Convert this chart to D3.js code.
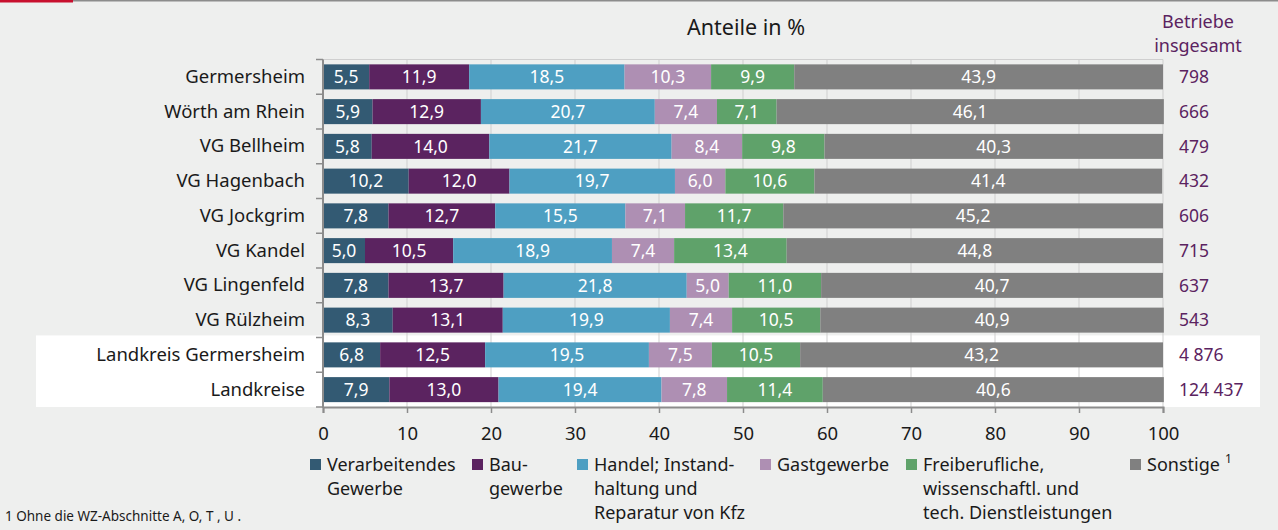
<!DOCTYPE html>
<meta charset="utf-8">
<script src="https://d3js.org/d3.v7.min.js"></script>
<style>
  body { margin: 0; background: #eeefee; }
  svg { display: block; font-family: "Noto Sans", "Open Sans", sans-serif; }
</style>
<svg id="chart" width="1278" height="530"></svg>
<script>

// regions (rows, top to bottom)
const regions = ["Germersheim", "Wörth am Rhein", "VG Bellheim", "VG Hagenbach", "VG Jockgrim",
  "VG Kandel", "VG Lingenfeld", "VG Rülzheim", "Landkreis Germersheim", "Landkreise"];

// shares in % per sector
const verarbeitend = [5.5, 5.9, 5.8, 10.2, 7.8, 5.0, 7.8, 8.3, 6.8, 7.9];
const bau          = [11.9, 12.9, 14.0, 12.0, 12.7, 10.5, 13.7, 13.1, 12.5, 13.0];
const handel       = [18.5, 20.7, 21.7, 19.7, 15.5, 18.9, 21.8, 19.9, 19.5, 19.4];
const gast         = [10.3, 7.4, 8.4, 6.0, 7.1, 7.4, 5.0, 7.4, 7.5, 7.8];
const freiberuf    = [9.9, 7.1, 9.8, 10.6, 11.7, 13.4, 11.0, 10.5, 10.5, 11.4];
const sonstige     = [43.9, 46.1, 40.3, 41.4, 45.2, 44.8, 40.7, 40.9, 43.2, 40.6];

// Betriebe insgesamt
const betriebe = ["798", "666", "479", "432", "606", "715", "637", "543", "4 876", "124 437"];

const sectors = ["verarbeitend", "bau", "handel", "gast", "freiberuf", "sonstige"];
const sectorLabels = [
  ["Verarbeitendes", "Gewerbe"],
  ["Bau-", "gewerbe"],
  ["Handel; Instand-", "haltung und", "Reparatur von Kfz"],
  ["Gastgewerbe"],
  ["Freiberufliche,", "wissenschaftl. und", "tech. Dienstleistungen"],
  ["Sonstige"]
];
const colors = ["#335a73", "#5b2360", "#4e9fc2", "#ae8fb3", "#5fa26a", "#808080"];
const xTicks = [0, 10, 20, 30, 40, 50, 60, 70, 80, 90, 100];

const svg = d3.select("#chart");
const W = 1278, H = 530;
const ink = "#1a1a1a";

// top rule with red mark
svg.append("rect").attr("x", 0).attr("y", 0).attr("width", W).attr("height", 1.5).attr("fill", "#8c8c8c");
svg.append("rect").attr("x", 0).attr("y", 0).attr("width", 73).attr("height", 2.5).attr("fill", "#c8102e");

const x = d3.scaleLinear().domain([0, 100]).range([323, 1163]);
const y = d3.scaleBand().domain(regions).range([59.5, 407]).paddingInner(0.28).paddingOuter(0.14);

// white band behind the two summary rows
const bandTop = y("Landkreis Germersheim") - y.step() * 0.2;
svg.append("rect")
  .attr("x", 36).attr("y", bandTop)
  .attr("width", 1260 - 36).attr("height", 407 - bandTop)
  .attr("fill", "#ffffff");

// grid + frame
const grid = svg.append("g");
grid.selectAll("line")
  .data(xTicks.slice(1))
  .join("line")
  .attr("x1", d => x(d)).attr("x2", d => x(d))
  .attr("y1", 59.5).attr("y2", 407)
  .attr("stroke", "#cfcfcf").attr("stroke-width", 1);
grid.append("line").attr("x1", x(0)).attr("x2", x(100)).attr("y1", 59.5).attr("y2", 59.5)
  .attr("stroke", "#cfcfcf");

// stacked data
const rows = regions.map((r, i) => ({
  region: r,
  verarbeitend: verarbeitend[i], bau: bau[i], handel: handel[i],
  gast: gast[i], freiberuf: freiberuf[i], sonstige: sonstige[i]
}));
const series = d3.stack().keys(sectors)(rows);

const bars = svg.append("g");
series.forEach((s, k) => {
  const g = bars.append("g").attr("fill", colors[k]);
  g.selectAll("rect")
    .data(s)
    .join("rect")
    .attr("x", d => x(d[0]))
    .attr("y", d => y(d.data.region))
    .attr("width", d => x(d[1]) - x(d[0]))
    .attr("height", y.bandwidth());
  bars.append("g").selectAll("text")
    .data(s)
    .join("text")
    .attr("x", d => (x(d[0]) + x(d[1])) / 2)
    .attr("y", d => y(d.data.region) + y.bandwidth() / 2)
    .attr("dy", "0.36em")
    .attr("text-anchor", "middle")
    .attr("fill", "#ffffff")
    .attr("font-size", 17.5)
    .text(d => d3.format(".1f")(d[1] - d[0]).replace(".", ","));
});

// left axis: labels + boundary ticks
const yAxis = svg.append("g")
  .attr("transform", `translate(${x(0)},0)`)
  .call(d3.axisLeft(y).tickSize(0).tickPadding(18))
  .attr("font-family", null).attr("font-size", null);
yAxis.select(".domain").remove();
yAxis.selectAll("text").attr("font-size", 18.5).attr("fill", ink);

const bounds = regions.map(r => y(r) - y.step() * y.paddingInner() / 2).concat([407]);
svg.append("g").selectAll("line")
  .data(bounds)
  .join("line")
  .attr("x1", x(0) - 7).attr("x2", x(0))
  .attr("y1", d => d).attr("y2", d => d)
  .attr("stroke", "#8c8c8c").attr("stroke-width", 1.5);
svg.append("line").attr("x1", x(0)).attr("x2", x(0)).attr("y1", 59.5).attr("y2", 408)
  .attr("stroke", "#8c8c8c").attr("stroke-width", 2);

// bottom axis
const xAxis = svg.append("g")
  .attr("transform", "translate(0,407)")
  .call(d3.axisBottom(x).tickValues(xTicks).tickSize(6).tickPadding(14))
  .attr("font-family", null).attr("font-size", null);
xAxis.select(".domain").attr("stroke", "#8c8c8c").attr("stroke-width", 2);
xAxis.selectAll(".tick line").attr("stroke", "#8c8c8c").attr("stroke-width", 1.5);
xAxis.selectAll("text").attr("font-size", 18.5).attr("fill", ink);

// title
svg.append("text").attr("x", 746).attr("y", 35).attr("text-anchor", "middle")
  .attr("font-size", 21.5).attr("fill", ink).text("Anteile in %");

// Betriebe insgesamt
const purple = "#5b2360";
svg.append("text").attr("x", 1198).attr("y", 28).attr("text-anchor", "middle")
  .attr("font-size", 18).attr("fill", purple).text("Betriebe");
svg.append("text").attr("x", 1198).attr("y", 52).attr("text-anchor", "middle")
  .attr("font-size", 18).attr("fill", purple).text("insgesamt");
svg.append("g").selectAll("text")
  .data(betriebe)
  .join("text")
  .attr("x", 1179)
  .attr("y", (d, i) => y(regions[i]) + y.bandwidth() / 2)
  .attr("dy", "0.36em")
  .attr("font-size", 17.5)
  .attr("fill", purple)
  .text(d => d);

// legend
const legendX = [310, 472, 577, 760, 906, 1130];
const legend = svg.append("g");
sectorLabels.forEach((lines, k) => {
  legend.append("rect").attr("x", legendX[k]).attr("y", 459).attr("width", 11).attr("height", 11)
    .attr("fill", colors[k]);
  const t = legend.append("text").attr("x", legendX[k] + 17).attr("y", 471)
    .attr("font-size", 18).attr("fill", ink);
  lines.forEach((l, j) => {
    t.append("tspan").attr("x", legendX[k] + 17).attr("dy", j === 0 ? 0 : 24).text(l);
  });
  if (sectors[k] === "sonstige") {
    t.append("tspan").attr("dx", 5).attr("dy", -8).attr("font-size", 12).text("1");
  }
});

// footnote
svg.append("text").attr("x", 5).attr("y", 521).attr("font-size", 13.5).attr("fill", ink)
  .text("1 Ohne die WZ-Abschnitte A, O, T , U .");
</script>
